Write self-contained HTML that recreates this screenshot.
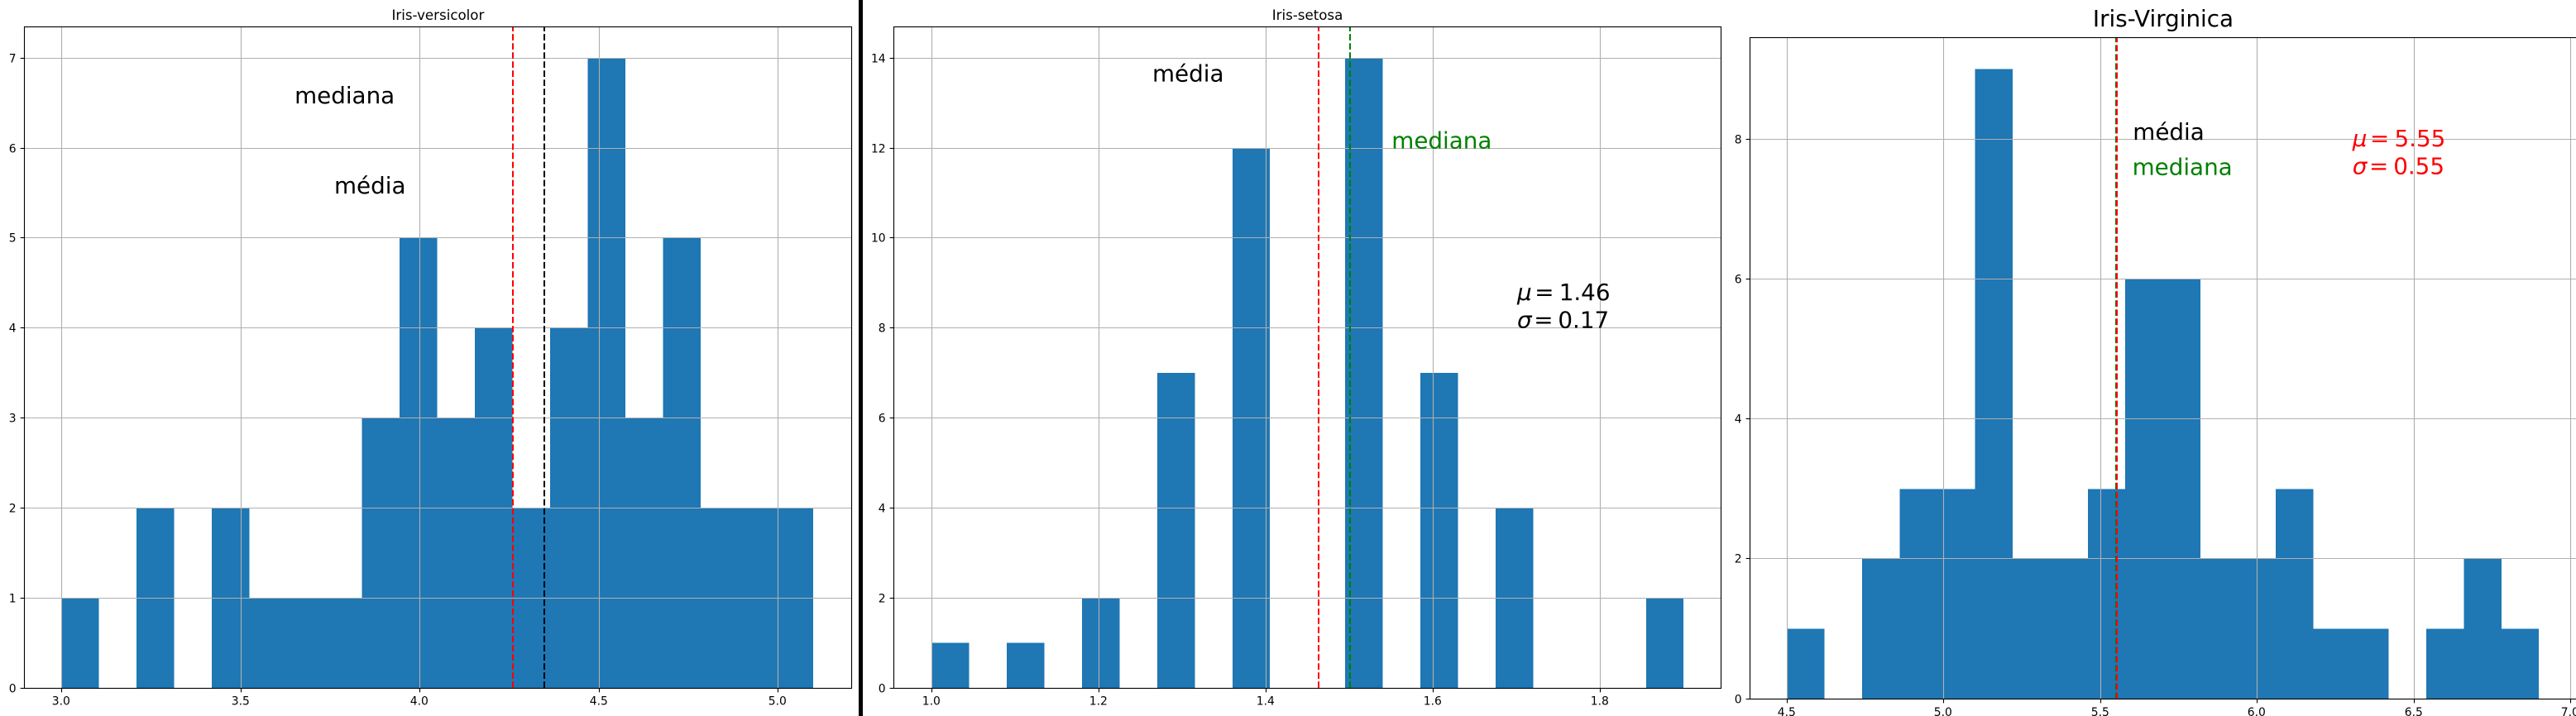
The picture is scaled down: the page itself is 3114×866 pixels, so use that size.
<!DOCTYPE html>
<html lang="pt">
<head>
<meta charset="utf-8">
<title>Iris histograms</title>
<style>
html,body{margin:0;padding:0;background:#fff;width:3114px;height:866px;overflow:hidden}
svg{display:block}
text{font-family:"DejaVu Sans","Liberation Sans",sans-serif}
</style>
</head>
<body>
<svg id="figure" xmlns="http://www.w3.org/2000/svg" width="3114" height="866" viewBox="0 0 3114 866">
  <rect x="0" y="0" width="3114" height="866" fill="#fff"/>

  <g id="panel-a">
    <g id="panel-a-marks"></g>
    <text x="529.4" y="24" font-size="16.67" text-anchor="middle" fill="#000">Iris-versicolor</text>
    <text x="356.1" y="125" font-size="27.78" fill="#000">mediana</text>
    <text x="404" y="234" font-size="27.78" fill="#000">média</text>
  </g>

  <g id="panel-b">
    <g id="panel-b-marks"></g>
    <text x="1580.5" y="24" font-size="16.67" text-anchor="middle" fill="#000">Iris-setosa</text>
    <text x="1393" y="98.3" font-size="27.78" fill="#000">média</text>
    <text x="1682.3" y="179.5" font-size="27.78" fill="#008000">mediana</text>
    <text y="363" font-size="27.78" fill="#000"><tspan x="1834" font-style="italic">μ</tspan><tspan x="1855.2">=</tspan><tspan x="1884.7">1.46</tspan></text>
    <text y="396.7" font-size="27.78" fill="#000"><tspan x="1834" font-style="italic">σ</tspan><tspan x="1854.2">=</tspan><tspan x="1883.4">0.17</tspan></text>
  </g>

  <g id="panel-c">
    <g id="panel-c-marks"></g>
    <text x="2615" y="32" font-size="27.78" text-anchor="middle" fill="#000">Iris-Virginica</text>
    <text x="2578.3" y="169" font-size="27.78" fill="#000">média</text>
    <text x="2577.6" y="211.6" font-size="27.78" fill="#008000">mediana</text>
    <text y="176.8" font-size="27.78" fill="#ff0000"><tspan x="2843.8" font-style="italic">μ</tspan><tspan x="2865">=</tspan><tspan x="2894.5">5.55</tspan></text>
    <text y="210.5" font-size="27.78" fill="#ff0000"><tspan x="2843.8" font-style="italic">σ</tspan><tspan x="2864">=</tspan><tspan x="2893.2">0.55</tspan></text>
  </g>

  <rect x="1038" y="0" width="5" height="866" fill="#000"/>
</svg>

<script>
/* Versicolor data */
const versicolorCounts = [1, 0, 2, 0, 2, 1, 1, 1, 3, 5, 3, 4, 2, 4, 7, 3, 5, 2, 2, 2];
const versicolorRange = [3.0, 5.1];
const versicolorXTicks = ["3.0", "3.5", "4.0", "4.5", "5.0"];
const versicolorYTicks = [0, 1, 2, 3, 4, 5, 6, 7];
const versicolorMean = 4.26;
const versicolorMedian = 4.348;

/* Setosa data */
const setosaCounts = [1, 0, 1, 0, 2, 0, 7, 0, 12, 0, 0, 14, 0, 7, 0, 4, 0, 0, 0, 2];
const setosaRange = [1.0, 1.9];
const setosaXTicks = ["1.0", "1.2", "1.4", "1.6", "1.8"];
const setosaYTicks = [0, 2, 4, 6, 8, 10, 12, 14];
const setosaMean = 1.4625;
const setosaMedian = 1.5;

/* Virginica data */
const virginicaCounts = [1, 0, 2, 3, 3, 9, 2, 2, 3, 6, 6, 2, 2, 3, 1, 1, 0, 1, 2, 1];
const virginicaRange = [4.5, 6.9];
const virginicaXTicks = ["4.5", "5.0", "5.5", "6.0", "6.5", "7.0"];
const virginicaYTicks = [0, 2, 4, 6, 8];
const virginicaMean = 5.552;
const virginicaMedian = 5.55;

const SVG_NS = "http://www.w3.org/2000/svg";
const BAR_COLOR = "#1f77b4";
const GRID_COLOR = "#b0b0b0";

function makeEl(tag, parent) {
  const el = document.createElementNS(SVG_NS, tag);
  parent.appendChild(el);
  return el;
}

function snap(v) {
  return Math.floor(v) + 0.5;
}

function drawLine(parent, name, x1, y1, x2, y2, color, width) {
  const el = makeEl("line", parent);
  
  
  el.setAttribute("x1", x1);
  el.setAttribute("y1", y1);
  el.setAttribute("x2", x2);
  el.setAttribute("y2", y2);
  el.setAttribute("stroke", color);
  el.setAttribute("stroke-width", width);
  return el;
}

function drawPanel(marksId, prefix, box, counts, range, xTicks, yTicks, refLines) {
  const marks = document.getElementById(marksId);
  const span = range[1] - range[0];
  const xMin = range[0] - span * 0.05;
  const xMax = range[1] + span * 0.05;
  const yMax = Math.max.apply(null, counts) * 1.05;
  const xScale = function (v) { return box.left + (v - xMin) / (xMax - xMin) * box.width; };
  const yScale = function (v) { return box.bottom - v / yMax * box.height; };
  const binWidth = span / counts.length;
  const top = box.bottom - box.height;
  const right = box.frameLeft + box.width;
  const frameBottom = snap(box.bottom);
  const frameTop = snap(top);

  counts.forEach(function (count, i) {
    const x0 = xScale(range[0] + i * binWidth) + box.barShift;
    const x1 = xScale(range[0] + (i + 1) * binWidth) + box.barShift;
    const bar = makeEl("rect", marks);
    
    
    bar.setAttribute("x", x0);
    bar.setAttribute("y", yScale(count));
    bar.setAttribute("width", x1 - x0);
    bar.setAttribute("height", box.bottom - yScale(count));
    bar.setAttribute("fill", BAR_COLOR);
    bar.setAttribute("shape-rendering", "crispEdges");
  });

  xTicks.forEach(function (label) {
    const x = snap(xScale(parseFloat(label)));
    drawLine(marks, prefix + "-x-grid-" + label, x, frameTop, x, frameBottom, GRID_COLOR, 1.11);
    drawLine(marks, prefix + "-x-tick-" + label, x, frameBottom, x, frameBottom + 4.86, "#000", 1.11);
    const t = makeEl("text", marks);
    
    
    t.setAttribute("x", x - 0.7);
    t.setAttribute("y", box.bottom + 20.7);
    t.setAttribute("font-size", "13.89");
    t.setAttribute("text-anchor", "middle");
    t.setAttribute("fill", "#000");
    t.textContent = label;
  });

  yTicks.forEach(function (value) {
    const y = snap(yScale(value));
    if (value > 0) {
      drawLine(marks, prefix + "-y-grid-" + value, box.frameLeft, y, right, y, GRID_COLOR, 1.11);
    }
    drawLine(marks, prefix + "-y-tick-" + value, box.frameLeft - 4.86, y, box.frameLeft, y, "#000", 1.11);
    const t = makeEl("text", marks);
    
    
    t.setAttribute("x", box.frameLeft - 9.9);
    t.setAttribute("y", y + 5);
    t.setAttribute("font-size", "13.89");
    t.setAttribute("text-anchor", "end");
    t.setAttribute("fill", "#000");
    t.textContent = String(value);
  });

  refLines.forEach(function (ref) {
    const x = Math.round(xScale(ref.value));
    const line = drawLine(marks, prefix + "-" + ref.kind + "-line", x, box.bottom, x, top, ref.color, 2);
    line.setAttribute("stroke-dasharray", "7.7 3.33");
  });

  const frame = makeEl("rect", marks);
  
  
  frame.setAttribute("x", box.frameLeft);
  frame.setAttribute("y", frameTop);
  frame.setAttribute("width", box.width);
  frame.setAttribute("height", frameBottom - frameTop);
  frame.setAttribute("fill", "none");
  frame.setAttribute("stroke", "#000");
  frame.setAttribute("stroke-width", "1.11");
}

drawPanel("panel-a-marks", "versicolor",
  { left: 29.3, frameLeft: 29.5, width: 1000, bottom: 832, height: 799.7, barShift: -0.7 },
  versicolorCounts, versicolorRange, versicolorXTicks, versicolorYTicks,
  [{ kind: "mean", value: versicolorMean, color: "#ff0000" },
   { kind: "median", value: versicolorMedian, color: "#000000" }]);

drawPanel("panel-b-marks", "setosa",
  { left: 1081, frameLeft: 1080.5, width: 1000, bottom: 832, height: 799.7, barShift: -0.3 },
  setosaCounts, setosaRange, setosaXTicks, setosaYTicks,
  [{ kind: "mean", value: setosaMean, color: "#ff0000" },
   { kind: "median", value: setosaMedian, color: "#008000" }]);

drawPanel("panel-c-marks", "virginica",
  { left: 2115, frameLeft: 2115.5, width: 1000, bottom: 845.3, height: 800, barShift: -0.3 },
  virginicaCounts, virginicaRange, virginicaXTicks, virginicaYTicks,
  [{ kind: "median", value: virginicaMedian, color: "#008000" },
   { kind: "mean", value: virginicaMean, color: "#ff0000" }]);
</script>
</body>
</html>
